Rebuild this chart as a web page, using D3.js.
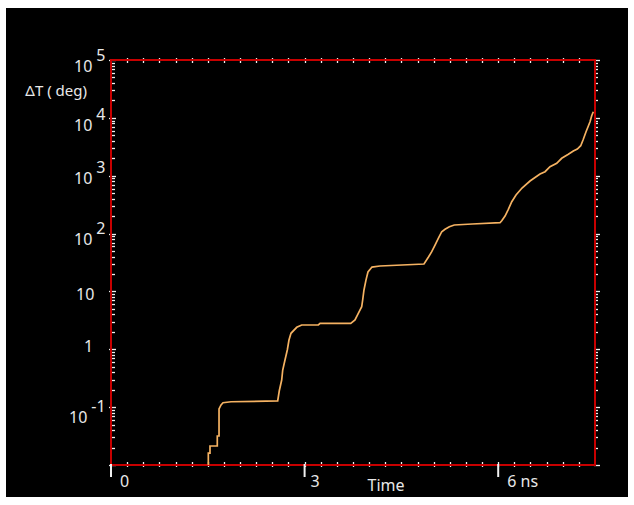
<!DOCTYPE html>
<html>
<head>
<meta charset="utf-8">
<script src="https://cdn.jsdelivr.net/npm/d3@7"></script>
<style>
  html, body { margin: 0; padding: 0; background: #ffffff; }
  svg { display: block; }
  text { font-family: "Noto Sans", "Open Sans", sans-serif; fill: #e8e8e8; }
</style>
</head>
<body>
<svg id="chart" width="634" height="505"></svg>
<script>
// Temperature rise ΔT (deg) against time (ns), log scale
const timeNs = [1.508, 1.508, 1.534, 1.534, 1.647, 1.647, 1.674, 1.674, 1.705, 1.736, 1.860, 2.583,
  2.608, 2.645, 2.661, 2.696, 2.732, 2.758, 2.789, 2.878, 2.955, 3.213, 3.240, 3.715,
  3.781, 3.832, 3.885, 3.900, 3.920, 3.951, 3.982, 4.044, 4.168, 4.850,
  4.917, 4.970, 5.021, 5.072, 5.125, 5.176, 5.243, 5.320, 5.599, 6.028,
  6.055, 6.106, 6.157, 6.210, 6.276, 6.369, 6.493, 6.648, 6.726, 6.803, 6.907,
  6.984, 7.087, 7.164, 7.226, 7.279, 7.319, 7.361, 7.397, 7.423, 7.449, 7.474];
const deltaT = [0.0055, 0.0161, 0.0161, 0.0213, 0.0213, 0.0317, 0.0317, 0.0929, 0.109, 0.119, 0.124, 0.128,
  0.192, 0.294, 0.438, 0.653, 0.973, 1.446, 1.89, 2.40, 2.63, 2.63, 2.81, 2.81,
  3.21, 4.19, 5.45, 7.11, 10.6, 15.7, 21.7, 26.4, 27.5, 29.8,
  38.9, 48.6, 63.4, 82.8, 107.7, 118.5, 131.5, 140.6, 146.3, 154.1,
  166.8, 201, 262.5, 355.6, 463.7, 612, 809, 1069, 1173, 1431, 1637,
  2000, 2344, 2673, 2893, 3302, 4257, 5758, 7225, 8570, 10890, 12760];

// Axis ticks and labels
const xDomain = [0, 7.5];
const yDomain = [1e-2, 1e5];
const xMajorTicks = [0, 3, 6];
const xTickLabels = ["0", "3", "6 ns"];
const xMinorStep = 0.25;
const yTickValues = [1e5, 1e4, 1e3, 1e2, 10, 1, 0.1];
const yTickBase = ["10", "10", "10", "10", "10", "1", "10"];
const yTickExp = ["5", "4", "3", "2", "", "", "-1"];
const xTitle = "Time";
const yTitle = "ΔT ( deg)";

const svg = d3.select("#chart");
const plotL = 111, plotR = 595, plotT = 60, plotB = 465;

svg.append("rect").attr("x", 6).attr("y", 8).attr("width", 622).attr("height", 489).attr("fill", "#000");

const x = d3.scaleLinear().domain(xDomain).range([plotL, plotR]);
const y = d3.scaleLog().domain(yDomain).range([plotB, plotT]);

// minor log ticks on left and right frame edges
const yMinor = [];
for (let e = -2; e < 5; e++) for (let m = 1; m < 10; m++) yMinor.push(m * Math.pow(10, e));
yMinor.push(1e5);

const ticksG = svg.append("g");
yMinor.forEach(v => {
  const yy = Math.round(y(v)) + 0.5;
  const major = Math.abs(Math.log10(v) - Math.round(Math.log10(v))) < 1e-9;
  ticksG.append("line").attr("x1", plotL - (major ? 2 : 0)).attr("x2", plotL + (major ? 5 : 4))
    .attr("y1", yy).attr("y2", yy).attr("stroke", "#f0f0f0").attr("stroke-width", 1.3);
  ticksG.append("line").attr("x1", plotR - 1).attr("x2", plotR + (major ? 5 : 3))
    .attr("y1", yy).attr("y2", yy).attr("stroke", "#f0f0f0").attr("stroke-width", 1.3);
});

// minor time ticks on bottom and top edges
d3.range(xDomain[0] + xMinorStep, xDomain[1], xMinorStep).forEach(t => {
  const xx = Math.round(x(t)) + 0.5;
  ticksG.append("line").attr("x1", xx).attr("x2", xx).attr("y1", plotB - 3).attr("y2", plotB + 2)
    .attr("stroke", "#f0f0f0").attr("stroke-width", 1.3);
  ticksG.append("line").attr("x1", xx).attr("x2", xx).attr("y1", plotT - 2).attr("y2", plotT + 3)
    .attr("stroke", "#f0f0f0").attr("stroke-width", 1.3);
});

// red frame
svg.append("rect").attr("x", plotL).attr("y", plotT).attr("width", plotR - plotL).attr("height", plotB - plotT)
  .attr("fill", "none").attr("stroke", "#c80000").attr("stroke-width", 2);

// major time ticks
xMajorTicks.forEach(t => {
  svg.append("line").attr("x1", x(t)).attr("x2", x(t)).attr("y1", plotB - 1).attr("y2", plotB + 12)
    .attr("stroke", "#f0f0f0").attr("stroke-width", 2);
});

// curve
svg.append("clipPath").attr("id", "plotClip").append("rect")
  .attr("x", plotL).attr("y", plotT - 2).attr("width", plotR - plotL).attr("height", plotB - plotT + 2);
const pts = timeNs.map((t, i) => [t, deltaT[i]]);
svg.append("path").datum(pts).attr("clip-path", "url(#plotClip)")
  .attr("d", d3.line().x(d => x(d[0])).y(d => y(d[1])))
  .attr("fill", "none").attr("stroke", "#f5b262").attr("stroke-width", 1.7);

// x tick labels
xMajorTicks.forEach((t, i) => {
  svg.append("text").attr("x", x(t) + (i === 1 ? 6 : 9)).attr("y", 487)
    .attr("font-size", 16).text(xTickLabels[i]);
});
svg.append("text").attr("x", 386).attr("y", 491).attr("text-anchor", "middle")
  .attr("font-size", 16).text(xTitle);

// y tick labels: base number with a raised exponent
const baseNudge = [12, 13, 8, 11, 9, 3, 16];
yTickValues.forEach((v, i) => {
  const yy = y(v) + baseNudge[i];
  const hasExp = yTickExp[i] !== "";
  const startX = hasExp ? (yTickExp[i].length > 1 ? 69 : 74) : (yTickBase[i] === "1" ? 84 : 76);
  const t = svg.append("text").attr("x", startX).attr("y", yy).attr("font-size", 16);
  t.append("tspan").text(yTickBase[i]);
  if (hasExp) t.append("tspan").attr("dx", 4).attr("dy", -11).text(yTickExp[i]);
});

svg.append("text").attr("x", 87).attr("y", 96).attr("text-anchor", "end")
  .attr("font-size", 15).text(yTitle);
</script>
</body>
</html>
